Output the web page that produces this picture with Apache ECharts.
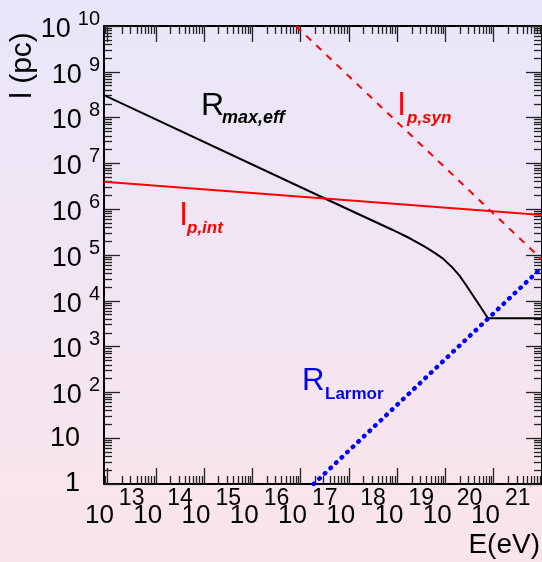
<!DOCTYPE html>
<html>
<head>
<meta charset="utf-8">
<script src="https://cdn.jsdelivr.net/npm/echarts@6/dist/echarts.min.js"></script>
<style>
html, body { margin: 0; padding: 0; }
#chart { width: 542px; height: 562px; }
</style>
</head>
<body>
<div id="chart"></div>
<script>
// energy E (eV) and length l (pc)
const rMaxEffE = [8.38e12, 3.69e17, 8.07e18, 1.82e19, 3.72e19, 5.98e19, 8.87e19, 1.34e20, 1.97e20, 2.75e20, 3.71e20, 5.10e20, 7.59e20, 1e22];
const rMaxEffL = [3.11e8, 1.59e6, 3.52e5, 2.32e5, 1.52e5, 1.11e5, 8.34e4, 5.55e4, 3.50e4, 2.11e4, 1.31e4, 7.91e3, 4.15e3, 4.15e3];
const lpIntE = [8.38e12, 1e22];
const lpIntL = [3.98e6, 7.46e5];
const lpSynE = [7.94e16, 1e22];
const lpSynL = [1e10, 7.94e4];
const rLarmorE = [1.86e17, 1e22];
const rLarmorL = [1, 5.37e4];

// axis ticks (decades)
const xDecades = [13, 14, 15, 16, 17, 18, 19, 20, 21, 22];
const xLabelsOdd = [13, 15, 17, 19, 21];
const xLabelsEven = [14, 16, 18, 20];
const yDecades = [0, 1, 2, 3, 4, 5, 6, 7, 8, 9, 10];

const xMin = Math.log10(8.38e12), xMax = 22;
const yMin = 0, yMax = 10;

function minors (lo, hi) {
    let out = [];
    for (let n = Math.floor(lo) - 1; n <= hi; n++) {
        for (let k = 2; k <= 9; k++) {
            let v = n + Math.log10(k);
            if (v > lo && v < hi) out.push(v);
        }
    }
    return out;
}
function pairs (es, ls) {
    return es.map((e, i) => [Math.log10(e), Math.log10(ls[i])]);
}

const FONT = '"Liberation Sans", Arial, sans-serif';
const tickStyle = { color: '#222', width: 1.3 };

// labels are split over two axes so that no decade label gets dropped as overlapping
function xAxisDef (pos, major, labels) {
    return {
        type: 'value', position: pos, min: xMin, max: xMax,
        axisLine: { show: major, onZero: false, lineStyle: { color: '#000', width: 2 } },
        splitLine: { show: false },
        axisTick: {
            show: true, inside: true, length: major ? 16 : 8,
            customValues: major ? xDecades : minors(xMin, xMax),
            lineStyle: tickStyle
        },
        axisLabel: labels ? {
            show: true,
            customValues: labels,
            showMinLabel: true,
            showMaxLabel: true,
            hideOverlap: false,
            margin: 3,
            padding: [0, 0, 0, 14],
            formatter: v => '{b|10}{s|' + v + '}',
            rich: {
                b: { fontSize: 26, fontFamily: FONT, color: '#000', verticalAlign: 'bottom', lineHeight: 26 },
                s: { fontSize: 23, fontFamily: FONT, color: '#000', verticalAlign: 'bottom', padding: [0, 0, 19, 5] }
            }
        } : { show: false }
    };
}
function yAxisDef (pos, major) {
    return {
        type: 'value', position: pos, min: yMin, max: yMax,
        axisLine: { show: major, onZero: false, lineStyle: { color: '#000', width: 2 } },
        splitLine: { show: false },
        axisTick: {
            show: true, inside: true, length: major ? 16 : 8,
            customValues: major ? yDecades : minors(yMin, yMax),
            lineStyle: tickStyle
        },
        axisLabel: (major && pos === 'left') ? {
            show: true,
            customValues: yDecades,
            showMinLabel: true,
            showMaxLabel: true,
            hideOverlap: false,
            margin: 4,
            formatter: v => {
                if (v === 0) return '{c|1}';
                if (v === 1) return '{c|10}';
                return '{b|10}{s|' + v + '}';
            },
            rich: {
                b: { fontSize: 27, fontFamily: FONT, color: '#000', verticalAlign: 'bottom', lineHeight: 27 },
                s: { fontSize: 20, fontFamily: FONT, color: '#000', verticalAlign: 'bottom', padding: [0, 0, 13.5, 7] },
                c: { fontSize: 27, fontFamily: FONT, color: '#000', lineHeight: 27, padding: [0, 20, 0, 0] }
            }
        } : { show: false }
    };
}

const chart = echarts.init(document.getElementById('chart'));
chart.setOption({
    animation: false,
    backgroundColor: new echarts.graphic.LinearGradient(0, 0, 0, 1, [
        { offset: 0, color: '#e9e6f9' },
        { offset: 0.5, color: '#f1e5f3' },
        { offset: 1, color: '#fae4ea' }
    ]),
    grid: { left: 104, top: 26, width: 438.4, height: 458, containLabel: false },
    xAxis: [
        xAxisDef('bottom', true, xLabelsOdd),
        xAxisDef('bottom', false, xLabelsEven),
        xAxisDef('top', true, null),
        xAxisDef('top', false, null)
    ],
    yAxis: [
        yAxisDef('left', true),
        yAxisDef('left', false),
        yAxisDef('right', true),
        yAxisDef('right', false)
    ],
    series: [
        {
            name: 'R max,eff', type: 'line', data: pairs(rMaxEffE, rMaxEffL),
            showSymbol: false, lineStyle: { color: '#000', width: 2 }, silent: true
        },
        {
            name: 'l p,int', type: 'line', data: pairs(lpIntE, lpIntL),
            showSymbol: false, lineStyle: { color: '#ff0000', width: 2 }, silent: true
        },
        {
            name: 'l p,syn', type: 'line', data: pairs(lpSynE, lpSynL),
            showSymbol: false, lineStyle: { color: '#ff0000', width: 2, type: [7, 7] }, silent: true
        },
        {
            name: 'R Larmor', type: 'line', data: pairs(rLarmorE, rLarmorL),
            showSymbol: false, lineStyle: { color: '#0000ff', width: 4.5, type: [0.5, 7.2], cap: 'round' }, silent: true
        }
    ],
    graphic: [
        // axis titles
        { type: 'text', x: 23, y: 65.5, rotation: Math.PI / 2,
          style: { text: 'l (pc)', fontSize: 30, fontFamily: FONT, fill: '#000', align: 'center', verticalAlign: 'middle' } },
        { type: 'text', x: 540, y: 545.5,
          style: { text: 'E(eV)', fontSize: 28, fontFamily: FONT, fill: '#000', align: 'right', verticalAlign: 'middle' } },
        // curve labels
        { type: 'text', x: 201, y: 106.5,
          style: { text: 'R', fontSize: 32, fontFamily: FONT, fill: '#000', verticalAlign: 'middle' } },
        { type: 'text', x: 222, y: 118.5,
          style: { text: 'max,eff', fontSize: 18, fontWeight: 'bold', fontStyle: 'italic', fontFamily: FONT, fill: '#000', verticalAlign: 'middle' } },
        { type: 'text', x: 398, y: 106.5,
          style: { text: 'l', fontSize: 32, fontFamily: FONT, fill: '#ff0000', verticalAlign: 'middle' } },
        { type: 'text', x: 407, y: 118,
          style: { text: 'p,syn', fontSize: 17, fontWeight: 'bold', fontStyle: 'italic', fontFamily: FONT, fill: '#ff0000', verticalAlign: 'middle' } },
        { type: 'text', x: 180, y: 216.5,
          style: { text: 'l', fontSize: 32, fontFamily: FONT, fill: '#ff0000', verticalAlign: 'middle' } },
        { type: 'text', x: 187, y: 228,
          style: { text: 'p,int', fontSize: 17, fontWeight: 'bold', fontStyle: 'italic', fontFamily: FONT, fill: '#ff0000', verticalAlign: 'middle' } },
        { type: 'text', x: 302, y: 381,
          style: { text: 'R', fontSize: 31, fontFamily: FONT, fill: '#0000ff', verticalAlign: 'middle' } },
        { type: 'text', x: 325, y: 394,
          style: { text: 'Larmor', fontSize: 17, fontWeight: 'bold', fontFamily: FONT, fill: '#0000ff', verticalAlign: 'middle' } }
    ]
});
</script>
</body>
</html>
